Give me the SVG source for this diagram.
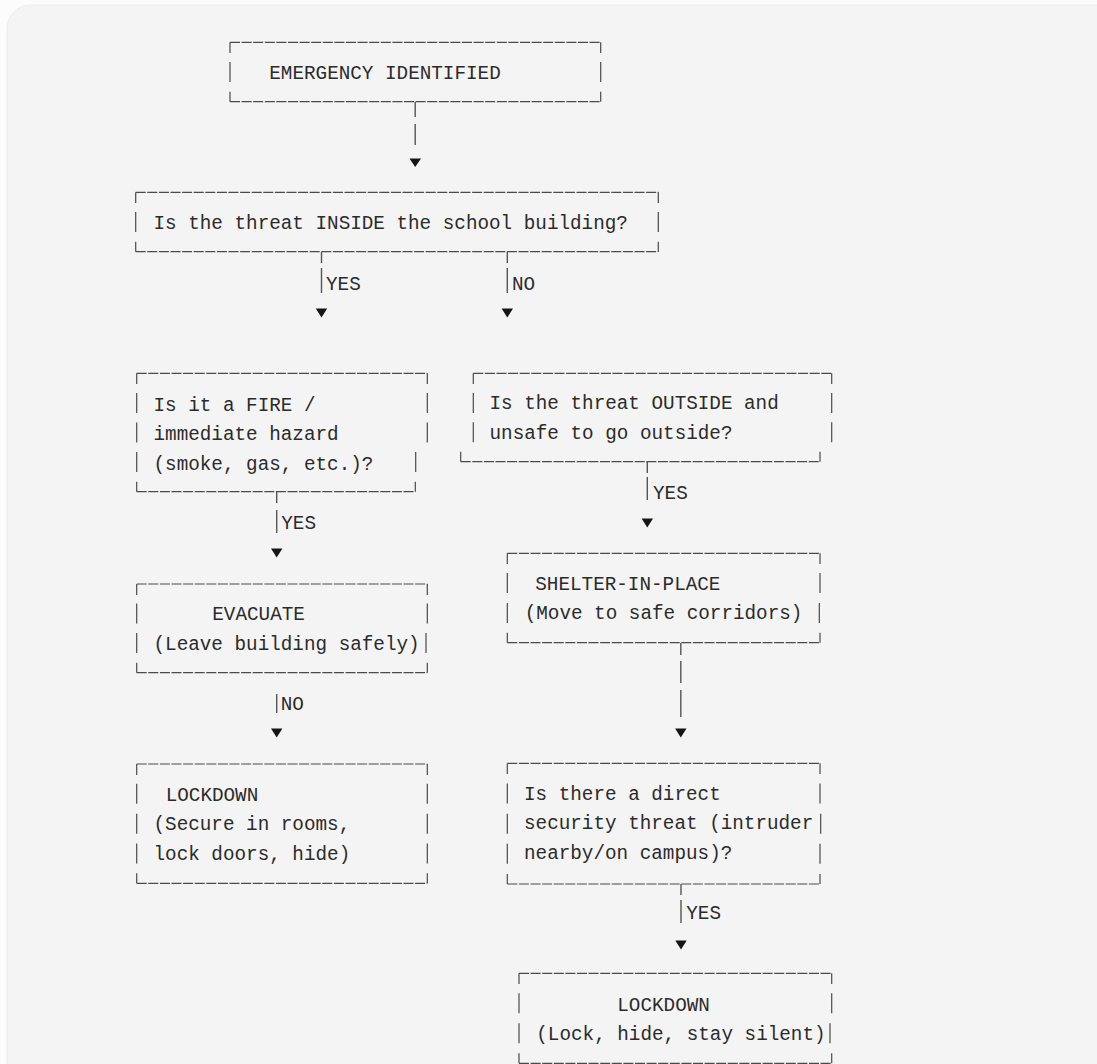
<svg xmlns="http://www.w3.org/2000/svg" width="1097" height="1064" viewBox="0 0 1097 1064">
<style>
.t{font-family:"Liberation Mono","DejaVu Sans Mono",monospace;font-size:19.3px;fill:#2b2b2b}
.h{fill:none;stroke:#4a4a4a;stroke-width:1.2;stroke-dasharray:10 1.6}
.v{fill:none;stroke:#4a4a4a;stroke-width:1.2}
.c{fill:none;stroke:#555;stroke-width:1.4}
.a{fill:#151515}
</style>
<rect x="0" y="0" width="1097" height="1064" fill="#fcfcfc"/>
<rect x="7" y="5" width="1120" height="1100" rx="24" fill="#f4f4f4" stroke="#ececec" stroke-width="1"/>

<g id="connectors">
  <path class="c" d="M415.2 102 V117 M415.2 124 V145"/>
  <polygon class="a" points="409.5,158.5 421,158.5 415.2,167"/>
  <path class="c" d="M321.5 252 V263 M321.5 268 V293"/>
  <text class="t" x="326" y="290">YES</text>
  <polygon class="a" points="315.8,308.5 327.2,308.5 321.5,317.5"/>
  <path class="c" d="M507.3 252 V263 M507.3 268 V293"/>
  <text class="t" x="512" y="290">NO</text>
  <polygon class="a" points="501.6,308.5 513,308.5 507.3,317.5"/>
  <path class="c" d="M276.7 492 V503 M276.7 510 V533"/>
  <text class="t" x="281.3" y="529.3">YES</text>
  <polygon class="a" points="271,548.5 282.4,548.5 276.7,557.5"/>
  <path class="c" d="M276.7 694 V713"/>
  <text class="t" x="280.7" y="710">NO</text>
  <polygon class="a" points="271,728.5 282.4,728.5 276.7,737.5"/>
  <path class="c" d="M647.3 462 V473 M647.3 477 V500"/>
  <text class="t" x="653" y="498.5">YES</text>
  <polygon class="a" points="641.6,518.5 653,518.5 647.3,527.5"/>
  <path class="c" d="M680.8 643 V655 M680.8 661 V683 M680.8 690 V717"/>
  <polygon class="a" points="675.1,728.5 686.5,728.5 680.8,737.5"/>
  <path class="c" d="M681 884 V895 M681 900 V923"/>
  <text class="t" x="686.3" y="919.3">YES</text>
  <polygon class="a" points="675.3,940.5 686.7,940.5 681,949.5"/>
</g>

<g id="emergency">
  <path class="h" d="M230 42.3 H600.7 M230 101.7 H600.7"/>
  <path class="v" d="M230 42.3 V53 M600.7 42.3 V53 M230 62 V82 M600.7 62 V82 M230 91.7 V101.7 M600.7 91.7 V101.7"/>
  <text class="t" x="269.3" y="79.3">EMERGENCY IDENTIFIED</text>
</g>

<g id="inside">
  <path class="h" d="M135.7 192.3 H658.3 M135.7 251.7 H658.3"/>
  <path class="v" d="M135.7 192.3 V203 M658.3 192.3 V203 M135.7 212 V232 M658.3 212 V232 M135.7 241.7 V251.7 M658.3 241.7 V251.7"/>
  <text class="t" x="153.5" y="229.3">Is the threat INSIDE the school building?</text>
</g>

<g id="fire">
  <path class="h" d="M136.7 373.3 H427.3 M136.7 491.7 H415.3"/>
  <path class="v" d="M136.7 373.3 V384 M427.3 373.3 V384 M136.7 393 V413 M427.3 393 V413 M136.7 422.5 V442.5 M427.3 422.5 V442.5 M136.7 452 V472 M415.7 452 V472 M136.7 481.7 V491.7 M415.3 481.7 V491.7"/>
  <text class="t" x="153.5" y="410.5">Is it a FIRE /</text>
  <text class="t" x="153.5" y="440">immediate hazard</text>
  <text class="t" x="153.5" y="469.5">(smoke, gas, etc.)?</text>
</g>

<g id="outside">
  <path class="h" d="M473.3 373.3 H831.7 M460.7 461.7 H820"/>
  <path class="v" d="M473.3 373.3 V384 M831.7 373.3 V384 M473.3 393 V413 M831.7 393 V413 M473.3 422.3 V442.3 M831.7 422.3 V442.3 M460.7 451.7 V461.7 M820 451.7 V461.7"/>
  <text class="t" x="489.5" y="409">Is the threat OUTSIDE and</text>
  <text class="t" x="489.5" y="439">unsafe to go outside?</text>
</g>

<g id="evacuate">
  <path class="h" d="M136.7 584 H427.3 M136.7 672.7 H427.3"/>
  <path class="v" d="M136.7 584 V595 M427.3 584 V595 M136.7 603.6 V623.6 M427.3 603.6 V623.6 M136.7 633.1 V653.1 M426 633.1 V653.1 M136.7 662.7 V672.7 M427.3 662.7 V672.7"/>
  <text class="t" x="212.3" y="620">EVACUATE</text>
  <text class="t" x="153.5" y="650.3">(Leave building safely)</text>
</g>

<g id="lockdown-left">
  <path class="h" d="M136.7 764 H427.3 M136.7 883.3 H427.3"/>
  <path class="v" d="M136.7 764 V775 M427.3 764 V775 M136.7 783.8 V803.8 M427.3 783.8 V803.8 M136.7 813.7 V833.7 M427.3 813.7 V833.7 M136.7 843.5 V863.5 M427.3 843.5 V863.5 M136.7 873.3 V883.3 M427.3 873.3 V883.3"/>
  <text class="t" x="165.7" y="800.5">LOCKDOWN</text>
  <text class="t" x="153.5" y="830.3">(Secure in rooms,</text>
  <text class="t" x="153.5" y="860">lock doors, hide)</text>
</g>

<g id="shelter">
  <path class="h" d="M507.3 553.3 H820 M507.3 642.7 H820"/>
  <path class="v" d="M507.3 553.3 V564 M820 553.3 V564 M507.3 573.1 V593.1 M820 573.1 V593.1 M507.3 602.9 V622.9 M819.3 602.9 V622.9 M507.3 632.7 V642.7 M820 632.7 V642.7"/>
  <text class="t" x="535.3" y="589.8">SHELTER-IN-PLACE</text>
  <text class="t" x="524.7" y="619">(Move to safe corridors)</text>
</g>

<g id="direct-threat">
  <path class="h" d="M507.3 763.3 H820 M507.3 884 H820"/>
  <path class="v" d="M507.3 763.3 V774 M820 763.3 V774 M507.3 783.5 V803.5 M820 783.5 V803.5 M507.3 813.7 V833.7 M820.7 813.7 V833.7 M507.3 843.8 V863.8 M820 843.8 V863.8 M507.3 874 V884 M820 874 V884"/>
  <text class="t" x="524" y="800.3">Is there a direct</text>
  <text class="t" x="524" y="829">security threat (intruder</text>
  <text class="t" x="524" y="858.8">nearby/on campus)?</text>
</g>

<g id="lockdown-right">
  <path class="h" d="M519 973.3 H831.7 M519 1063.3 H831.7"/>
  <path class="v" d="M519 973.3 V984 M831.7 973.3 V984 M519 993.3 V1013.3 M831.7 993.3 V1013.3 M519 1023.3 V1043.3 M830 1023.3 V1043.3 M519 1053.3 V1063.3 M831.7 1053.3 V1063.3"/>
  <text class="t" x="617.3" y="1010.5">LOCKDOWN</text>
  <text class="t" x="536.3" y="1040">(Lock, hide, stay silent)</text>
</g>
</svg>
